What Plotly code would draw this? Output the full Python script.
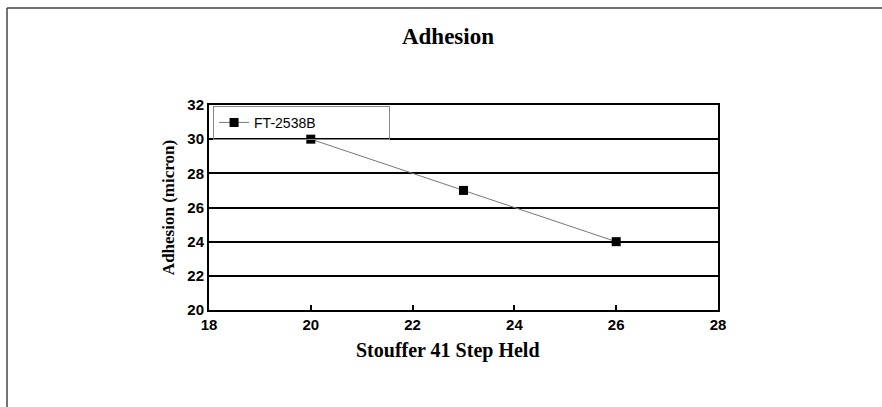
import plotly.graph_objects as go

steps = [20, 23, 26]
adhesion = [30, 27, 24]
series_name = "FT-2538B"
x_ticks = [18, 20, 22, 24, 26, 28]
y_ticks = [20, 22, 24, 26, 28, 30, 32]

W, H = 882, 407
L, R, T, B = 209, 164, 105, 97
pw, ph = W - L - R, H - T - B

def px(x):
    return (x - L) / pw

def py(y):
    return (H - B - y) / ph

fig = go.Figure()
fig.add_trace(go.Scatter(
    x=steps, y=adhesion, mode="lines+markers", name=series_name,
    line=dict(color="#777777", width=1),
    marker=dict(symbol="square", size=9, color="black"),
))

fig.update_layout(
    width=W, height=H,
    margin=dict(l=L, r=R, t=T, b=B),
    paper_bgcolor="white", plot_bgcolor="white",
    showlegend=True,
    legend=dict(x=0.008, y=0.996, xanchor="left", yanchor="top",
                orientation="h", entrywidth=130, entrywidthmode="pixels",
                bgcolor="rgba(255,255,255,0)", bordercolor="#888888", borderwidth=1,
                font=dict(family="Liberation Sans, Arial", size=14, color="black"),
                itemwidth=30, tracegroupgap=0),
    title=dict(text="<b>Adhesion</b>", xref="container", x=448 / W, xanchor="center",
               yref="container", y=1 - 36 / H, yanchor="middle",
               font=dict(family="Liberation Serif, Times New Roman", size=23, color="black")),
    xaxis=dict(range=[18, 28], tickvals=x_ticks, ticks="inside", ticklen=5,
               tickwidth=1.5, tickcolor="black",
               showline=True, linecolor="black", linewidth=2, mirror=True,
               showgrid=False, zeroline=False,
               tickfont=dict(family="Liberation Sans, Arial", size=15, color="black", weight="bold")),
    yaxis=dict(range=[20, 32], tickvals=y_ticks, ticks="inside", ticklen=4,
               tickwidth=1.5, tickcolor="black",
               showline=True, linecolor="black", linewidth=2, mirror=True,
               showgrid=True, gridcolor="black", gridwidth=1.5, zeroline=False,
               tickfont=dict(family="Liberation Sans, Arial", size=15, color="black", weight="bold"),
               title=dict(text="<b>Adhesion (micron)</b>", standoff=8,
                          font=dict(family="Liberation Serif, Times New Roman", size=17, color="black"))),
)

# x-axis title (sits left of the plot centre in the source)
fig.add_annotation(text="<b>Stouffer 41 Step Held</b>", xref="paper", yref="paper",
                   x=px(448), y=py(350), xanchor="center", yanchor="middle",
                   showarrow=False,
                   font=dict(family="Liberation Serif, Times New Roman", size=20, color="black"))

# outer frame (partial, as in the source page)
fig.add_shape(type="line", xref="paper", yref="paper",
              x0=px(7), x1=px(W + 5), y0=py(8), y1=py(8),
              line=dict(color="#444444", width=1.5))
fig.add_shape(type="line", xref="paper", yref="paper",
              x0=px(7), x1=px(7), y0=py(8), y1=py(H + 5),
              line=dict(color="#444444", width=1.5))

# cut-off heading at the very top
fig.add_annotation(text="<b>Pad.2 Adhesion</b>", xref="paper", yref="paper",
                   x=px(73), y=py(6), xanchor="left", yanchor="bottom",
                   showarrow=False,
                   font=dict(family="Liberation Sans, Arial", size=22, color="black"))

fig.write_html("out.html", config={"displayModeBar": False},
               post_script="document.body.style.margin='0';")
